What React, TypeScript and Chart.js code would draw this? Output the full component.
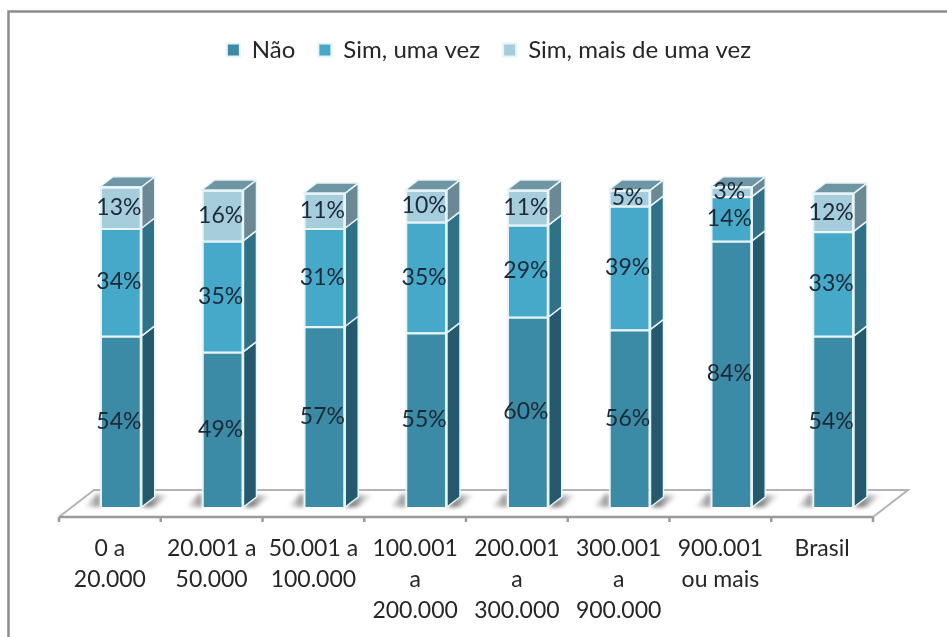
import React, { useEffect, useRef } from "react";
import { Chart, registerables } from "chart.js";

Chart.register(...registerables);

const categories: string[][] = [
  ["0 a", "20.000"],
  ["20.001 a", "50.000"],
  ["50.001 a", "100.000"],
  ["100.001", "a", "200.000"],
  ["200.001", "a", "300.000"],
  ["300.001", "a", "900.000"],
  ["900.001", "ou mais"],
  ["Brasil"],
];
const nao = [54, 49, 57, 55, 60, 56, 84, 54];
const simUmaVez = [34, 35, 31, 35, 29, 39, 14, 33];
const simMaisDeUma = [13, 16, 11, 10, 11, 5, 3, 12];

const FONT = "Lato, 'Open Sans', sans-serif";
const DX = 13;
const DY = 10;
const EDGE = "#e6f4f8";

const sideColors = ["#24596e", "#2f7287", "#6b8995"];
const topColor = "#6e96a4";

function poly(ctx: CanvasRenderingContext2D, pts: number[][]) {
  ctx.beginPath();
  pts.forEach((p, i) => (i ? ctx.lineTo(p[0], p[1]) : ctx.moveTo(p[0], p[1])));
  ctx.closePath();
}

const frame3d = {
  id: "frame3d",
  afterLayout(chart: any) {
    if (chart.legend) {
      chart.legend.left += 12;
      chart.legend.right += 12;
    }
  },
  beforeDatasetsDraw(chart: any) {
    const { ctx, chartArea } = chart;
    const { left, right, bottom } = chartArea;
    const xScale = chart.scales.x;
    ctx.save();

    // outer frame: left and top edges only
    ctx.strokeStyle = "#8c8c8c";
    ctx.lineWidth = 2.5;
    ctx.beginPath();
    ctx.moveTo(8.5, 637);
    ctx.lineTo(8.5, 11.5);
    ctx.lineTo(947, 11.5);
    ctx.stroke();

    // floor
    const fl = left - 11;
    const fr = right - 11;
    const fy = bottom + 10;
    const bx = 35;
    const by = 27;
    ctx.strokeStyle = "#b4b4b4";
    ctx.lineWidth = 2;
    ctx.beginPath();
    ctx.moveTo(fl, fy);
    ctx.lineTo(fl + bx, fy - by);
    ctx.lineTo(fr + bx, fy - by);
    ctx.lineTo(fr, fy);
    ctx.stroke();
    ctx.strokeStyle = "#9a9a9a";
    ctx.lineWidth = 2.5;
    ctx.beginPath();
    ctx.moveTo(fl, fy);
    ctx.lineTo(fr, fy);
    const step = (fr - fl) / categories.length;
    for (let i = 0; i <= categories.length; i++) {
      const tx = i < categories.length ? xScale.getPixelForTick(i) - step / 2 - 11 : fr;
      ctx.moveTo(tx, fy);
      ctx.lineTo(tx, fy + 5);
    }
    ctx.stroke();

    // soft base shadows
    const base = chart.getDatasetMeta(0).data;
    base.forEach((b: any) => {
      const l = b.x - b.width / 2;
      const r = b.x + b.width / 2;
      ctx.save();
      ctx.filter = "blur(2px)";
      const gl = ctx.createLinearGradient(l - 16, 0, l, 0);
      gl.addColorStop(0, "rgba(130,130,130,0)");
      gl.addColorStop(1, "rgba(110,110,110,0.85)");
      ctx.fillStyle = gl;
      poly(ctx, [[l - 16, bottom], [l, bottom], [l, bottom - 13], [l - 3, bottom - 13]]);
      ctx.fill();
      const gr = ctx.createLinearGradient(r + 6, 0, r + 28, 0);
      gr.addColorStop(0, "rgba(90,90,90,0.9)");
      gr.addColorStop(1, "rgba(130,130,130,0)");
      ctx.fillStyle = gr;
      poly(ctx, [[r, bottom], [r + 12, bottom], [r + 28, bottom - 12], [r + 13, bottom - 12]]);
      ctx.fill();
      ctx.restore();
    });

    // side and top faces of the stacked bars
    ctx.strokeStyle = EDGE;
    ctx.lineWidth = 1.5;
    ctx.lineJoin = "round";
    chart.data.datasets.forEach((_: any, di: number) => {
      chart.getDatasetMeta(di).data.forEach((b: any) => {
        const r = b.x + b.width / 2;
        ctx.fillStyle = sideColors[di];
        poly(ctx, [[r, b.base], [r + DX, b.base - DY], [r + DX, b.y - DY], [r, b.y]]);
        ctx.fill();
        ctx.stroke();
        if (di === chart.data.datasets.length - 1) {
          const l = b.x - b.width / 2;
          ctx.fillStyle = topColor;
          poly(ctx, [[l, b.y], [l + DX, b.y - DY], [r + DX, b.y - DY], [r, b.y]]);
          ctx.fill();
          ctx.stroke();
        }
      });
    });
    ctx.restore();
  },
  afterDatasetsDraw(chart: any) {
    const { ctx } = chart;
    ctx.save();
    ctx.font = `23px ${FONT}`;
    ctx.fillStyle = "#1c2a38";
    ctx.textAlign = "center";
    ctx.textBaseline = "middle";
    chart.data.datasets.forEach((ds: any, di: number) => {
      chart.getDatasetMeta(di).data.forEach((b: any, i: number) => {
        ctx.fillText(`${ds.data[i]}%`, b.x - 2, (b.y + b.base) / 2);
      });
    });
    ctx.restore();
  },
};

export default function App() {
  const ref = useRef<HTMLCanvasElement>(null);
  useEffect(() => {
    const chart = new Chart(ref.current!, {
      type: "bar",
      data: {
        labels: categories,
        datasets: [
          { label: "Não", data: nao, backgroundColor: "#3b8aa6" },
          { label: "Sim, uma vez", data: simUmaVez, backgroundColor: "#46a9c9" },
          { label: "Sim, mais de uma vez", data: simMaisDeUma, backgroundColor: "#a5cddc" },
        ].map((d) => ({ ...d, borderColor: EDGE, borderWidth: 2 })),
      },
      options: {
        animation: false,
        responsive: false,
        layout: { padding: { left: 70, right: 63, top: 15, bottom: 0 } },
        datasets: { bar: { barPercentage: 0.41, categoryPercentage: 1 } },
        plugins: {
          tooltip: { enabled: false },
          legend: {
            position: "top",
            labels: {
              boxWidth: 13,
              boxHeight: 13,
              padding: 23,
              color: "#262626",
              font: { family: FONT, size: 24 },
            },
          },
        },
        scales: {
          x: {
            stacked: true,
            grid: { display: false },
            border: { display: false },
            afterFit: (s: any) => {
              s.height = 130;
            },
            ticks: {
              maxRotation: 0,
              autoSkip: false,
              padding: 18,
              labelOffset: -11,
              color: "#262626",
              font: { family: FONT, size: 23, lineHeight: 1.35 },
            },
          },
          y: { stacked: true, display: false, min: 0, max: 137.2 },
        },
      },
      plugins: [frame3d],
    } as any);
    return () => chart.destroy();
  }, []);
  return (
    <canvas
      ref={ref}
      width={947}
      height={637}
      style={{ position: "absolute", left: 0, top: 0, background: "#fff" }}
    />
  );
}
